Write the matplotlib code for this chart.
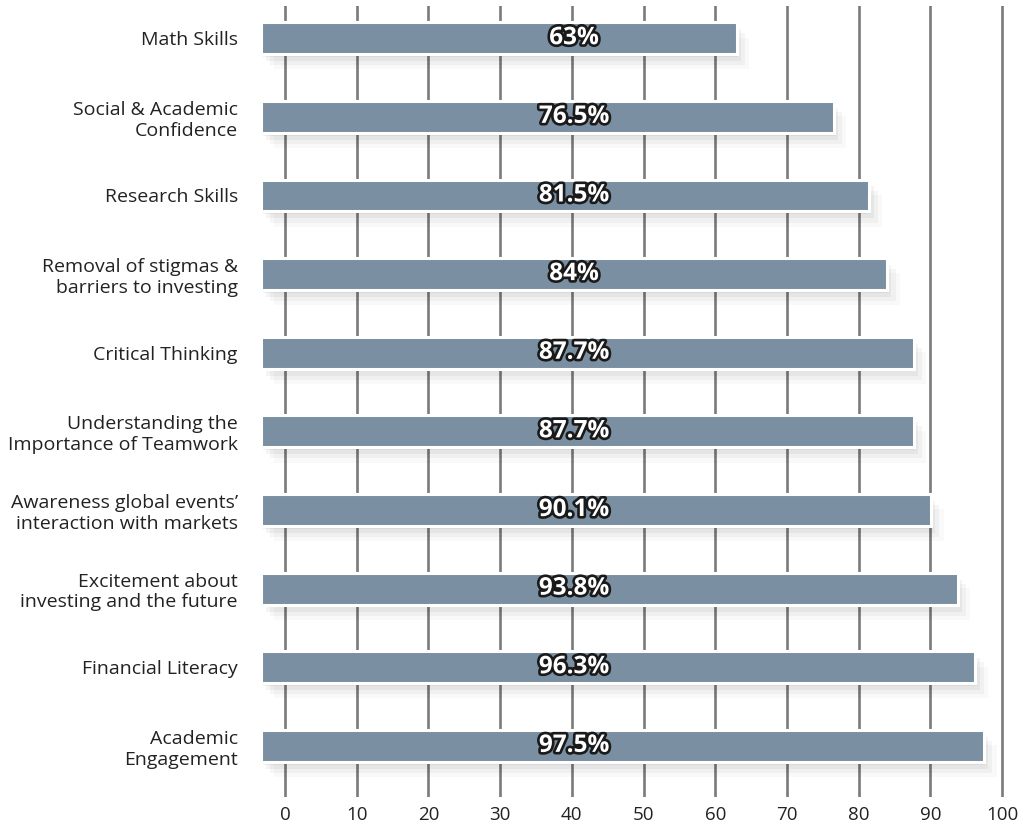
import matplotlib
matplotlib.use("Agg")
import matplotlib.pyplot as plt
import matplotlib.patheffects as pe

# data
categories = [
    "Math Skills",
    "Social & Academic\nConfidence",
    "Research Skills",
    "Removal of stigmas &\nbarriers to investing",
    "Critical Thinking",
    "Understanding the\nImportance of Teamwork",
    "Awareness global events\u2019\ninteraction with markets",
    "Excitement about\ninvesting and the future",
    "Financial Literacy",
    "Academic\nEngagement",
]
values = [63, 76.5, 81.5, 84, 87.7, 87.7, 90.1, 93.8, 96.3, 97.5]
labels = ["63%", "76.5%", "81.5%", "84%", "87.7%", "87.7%", "90.1%", "93.8%", "96.3%", "97.5%"]
xticks = [0, 10, 20, 30, 40, 50, 60, 70, 80, 90, 100]

plt.rcParams['font.family'] = ['Open Sans', 'DejaVu Sans']

fig = plt.figure(figsize=(10.21, 8.3), dpi=100)
ax = fig.add_axes([0.256, 0.0398, 0.7275, 0.953])

x0 = -3.3
ax.set_xlim(x0, 100.3)
ax.set_ylim(len(values) - 0.35, -0.41)

# grid lines
for t in xticks:
    ax.axvline(t, color="#7a7a7a", lw=1.9, zorder=0)

ypos = list(range(len(values)))
shadow = [
    pe.SimplePatchShadow(offset=(1, -2), shadow_rgbFace="k", alpha=0.05),
    pe.SimplePatchShadow(offset=(3, -5), shadow_rgbFace="k", alpha=0.045),
    pe.SimplePatchShadow(offset=(6, -8), shadow_rgbFace="k", alpha=0.035),
    pe.SimplePatchShadow(offset=(9, -11), shadow_rgbFace="k", alpha=0.025),
    pe.Normal(),
]
bars = ax.barh(ypos, [v - x0 for v in values], left=x0, height=0.406,
               color="#7a8fa1", edgecolor="white", linewidth=2.2, zorder=2)
for b in bars:
    b.set_path_effects(shadow)

for y, lab in zip(ypos, labels):
    ax.text(40.3, y, lab, ha="center", va="center", fontsize=17.5, fontweight="bold",
            color="white", zorder=3,
            path_effects=[pe.withStroke(linewidth=3.8, foreground="#1a1a1a")])

ax.set_yticks(ypos)
ax.set_yticklabels(categories, fontsize=14, color="#222222", linespacing=1.2)
ax.set_xticks(xticks)
ax.set_xticklabels([str(t) for t in xticks], fontsize=13.5, color="#222222")
ax.tick_params(axis="both", length=0)
ax.tick_params(axis="y", pad=17)
ax.tick_params(axis="x", pad=6.5)
for s in ax.spines.values():
    s.set_visible(False)

fig.savefig("out.png", dpi=100, facecolor="white")
